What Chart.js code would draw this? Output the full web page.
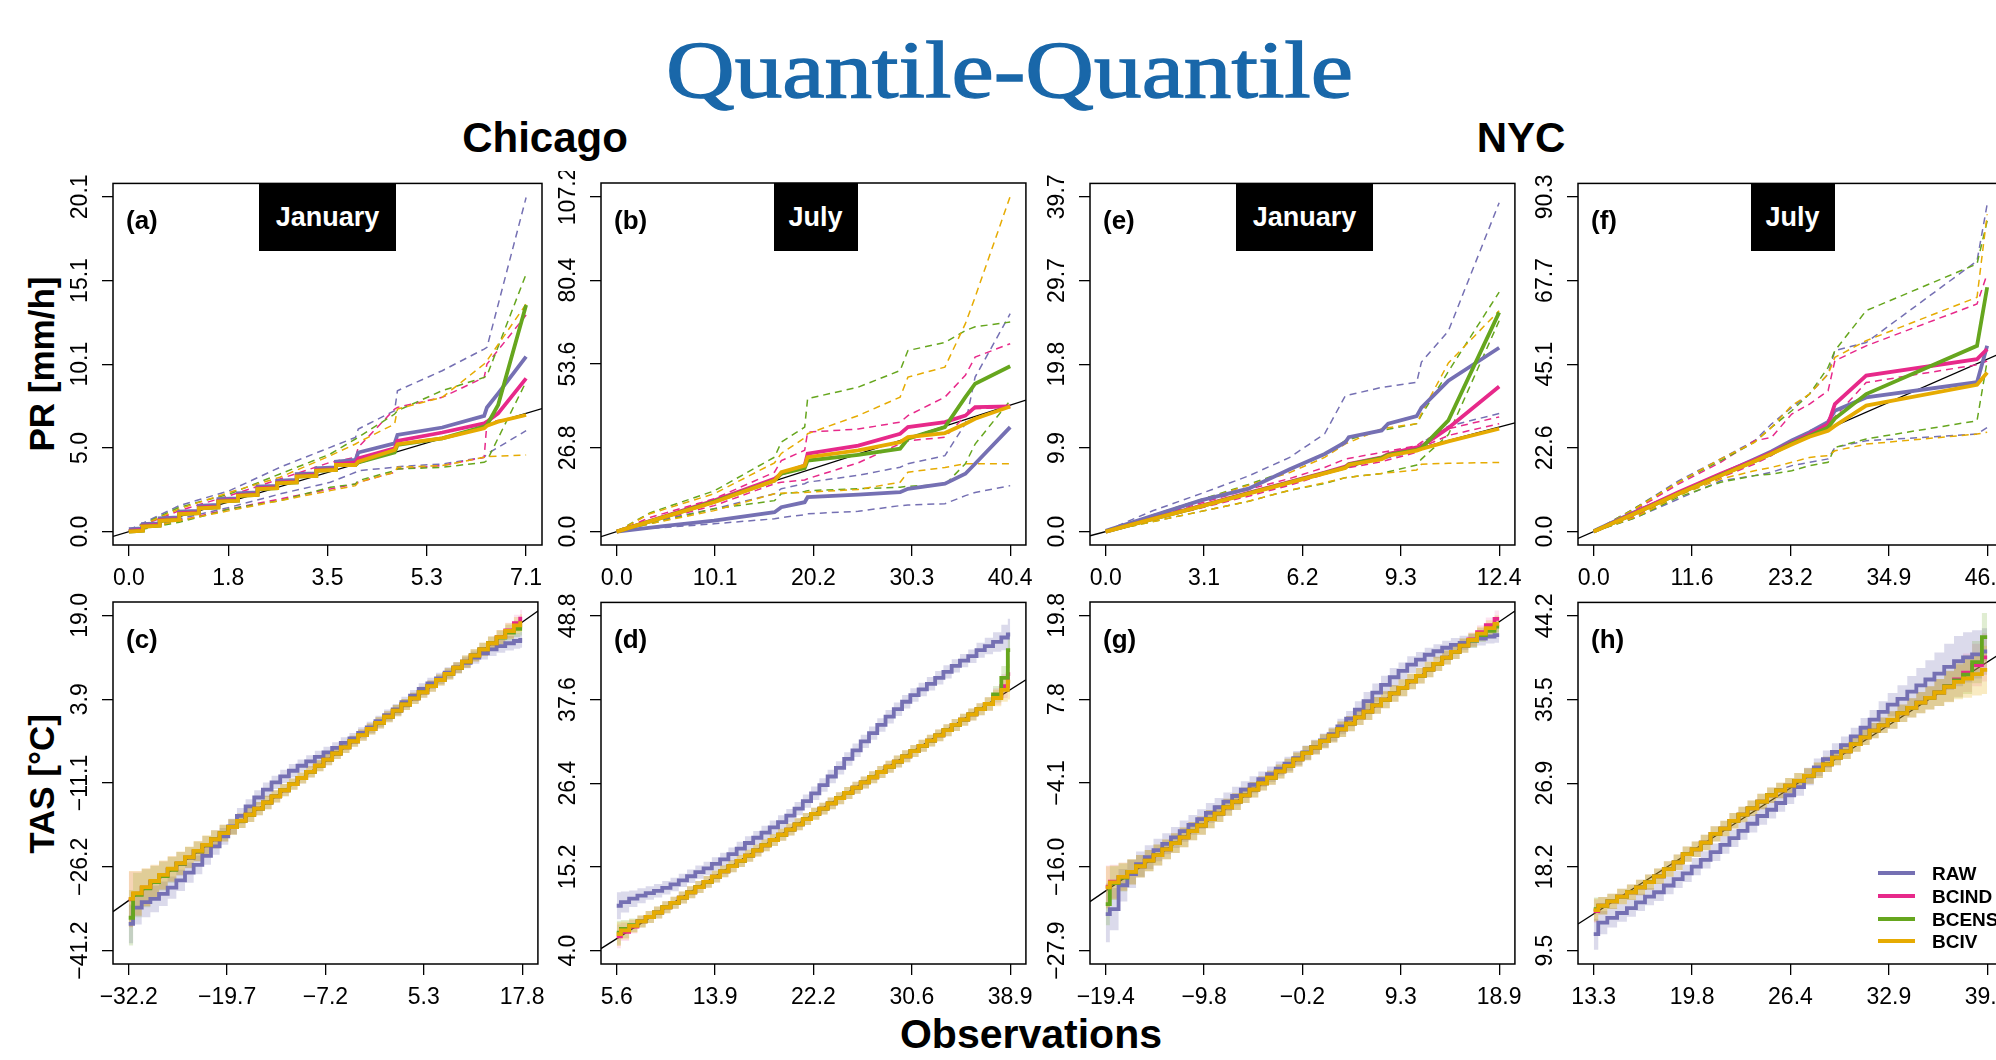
<!DOCTYPE html>
<html>
<head>
<meta charset="utf-8">
<title>Quantile-Quantile</title>
<script src="https://cdn.jsdelivr.net/npm/chart.js@4.4.1/dist/chart.umd.min.js"></script>
<style>
  html, body { margin: 0; padding: 0; }
  body { width: 1996px; height: 1060px; position: relative; overflow: hidden; background: #fff;
         font-family: "Liberation Sans", Arial, sans-serif; color: #000; }
  .txt { position: absolute; white-space: nowrap; line-height: 1; }
  #title { left: 666px; top: 30px; font-family: "Liberation Serif", serif; font-size: 81px; color: #1967a9;
           -webkit-text-stroke: 1.3px #1967a9; transform-origin: 0 0; }
  .city { font-size: 42px; font-weight: bold; top: 117px; transform: translateX(-50%); }
  .ylab { font-size: 35px; font-weight: bold; transform: translate(-50%, -50%) rotate(-90deg); }
  .tag { font-size: 26px; font-weight: bold; transform: translateY(-50%); }
  .month { position: absolute; height: 68px; background: #000; color: #fff; font-weight: bold; font-size: 27px;
           display: flex; align-items: center; justify-content: center; }
  .key { position: absolute; height: 4px; width: 37px; }
  .keytxt { font-size: 19px; font-weight: bold; transform: translateY(-50%); }
</style>
</head>
<body>
<div id="title" class="txt">Quantile-Quantile</div>
<div class="txt city" style="left:545px">Chicago</div>
<div class="txt city" style="left:1521px">NYC</div>
<div class="txt ylab" style="left:41px;top:364px">PR [mm/h]</div>
<div class="txt ylab" style="left:41px;top:784px">TAS [°C]</div>
<div class="txt" style="left:1031px;top:1014px;font-size:41px;font-weight:bold;transform:translateX(-50%)">Observations</div>
<script>
// ---------- (a) PR, Chicago, January ----------
const aXTicks = [0.0, 1.8, 3.5, 5.3, 7.1];
const aYTicks = [0.0, 5.0, 10.1, 15.1, 20.1];
const aObs   = [0.0, 0.25, 0.25, 0.55, 0.55, 0.9, 0.9, 1.25, 1.25, 1.6, 1.6, 1.95, 1.95, 2.3, 2.3, 2.65, 2.65, 3.0, 3.0, 3.35, 3.35, 3.7, 3.7,
                4.05, 4.1, 4.75, 4.8, 5.6, 6.35, 6.4, 6.6, 7.1];
const aRaw   = [0.15, 0.2, 0.45, 0.5, 0.8, 0.85, 1.2, 1.25, 1.55, 1.6, 1.95, 2.0, 2.3, 2.35, 2.7, 2.75, 3.05, 3.1, 3.45, 3.5, 3.8, 3.85, 4.2,
                4.3, 4.75, 5.3, 5.8, 6.25, 6.95, 7.45, 8.3, 10.5];
const aBcind = [0.05, 0.1, 0.35, 0.4, 0.7, 0.75, 1.1, 1.15, 1.45, 1.5, 1.85, 1.9, 2.2, 2.25, 2.6, 2.65, 2.95, 3.0, 3.35, 3.4, 3.7, 3.75, 4.05,
                4.15, 4.4, 5.0, 5.45, 5.95, 6.5, 6.6, 7.1, 9.2];
const aBcens = [0.0, 0.05, 0.3, 0.35, 0.65, 0.7, 1.05, 1.1, 1.4, 1.45, 1.8, 1.85, 2.15, 2.2, 2.55, 2.6, 2.9, 2.95, 3.3, 3.35, 3.65, 3.7, 4.0,
                4.0, 4.15, 4.75, 5.2, 5.6, 6.3, 6.4, 7.6, 13.6];
const aBciv  = [0.0, 0.05, 0.3, 0.35, 0.65, 0.7, 1.05, 1.1, 1.4, 1.45, 1.8, 1.85, 2.15, 2.2, 2.55, 2.6, 2.9, 2.95, 3.3, 3.35, 3.65, 3.7, 4.0,
                4.0, 4.2, 4.9, 5.25, 5.6, 6.2, 6.35, 6.6, 7.0];
const aObsBand = [0.0, 0.9, 1.8, 2.7, 3.6, 4.05, 4.1, 4.75, 4.8, 5.6, 6.35, 6.4, 7.1];
const aRawHi   = [0.1, 1.56, 2.46, 3.86, 5.06, 5.66, 6.16, 7.26, 8.46, 9.66, 10.96, 11.06, 20.06];
const aRawLo   = [0.05, 0.76, 1.46, 2.26, 2.96, 3.56, 3.66, 3.86, 3.9, 4.06, 4.46, 4.66, 6.06];
const aBcindHi = [0.05, 1.26, 2.16, 3.16, 4.16, 4.46, 5.06, 7.36, 7.46, 8.06, 9.26, 10.06, 13.0];
const aBcindLo = [0.0, 0.66, 1.36, 1.96, 2.56, 2.86, 2.96, 3.56, 3.76, 3.96, 4.46, 6.56, 6.96];
const aBcensHi = [0.05, 1.46, 2.26, 3.46, 4.66, 5.56, 5.66, 7.06, 7.26, 8.46, 9.26, 9.36, 15.46];
const aBcensLo = [0.0, 0.56, 1.36, 1.86, 2.66, 2.86, 3.06, 3.66, 3.76, 3.86, 4.16, 4.26, 9.0];
const aBcivHi  = [0.05, 1.36, 2.36, 3.26, 4.56, 5.26, 5.36, 6.46, 7.36, 8.06, 10.06, 10.26, 13.66];
const aBcivLo  = [0.0, 0.66, 1.26, 1.86, 2.46, 2.76, 2.96, 3.56, 3.86, 3.96, 4.46, 4.5, 4.6];

// ---------- (b) PR, Chicago, July ----------
const bXTicks = [0.0, 10.1, 20.2, 30.3, 40.4];
const bYTicks = [0.0, 26.8, 53.6, 80.4, 107.2];
const bObs   = [0, 5, 10, 16.2, 16.9, 19.3, 19.6, 24.8, 29.1, 29.9, 33.7, 35.8, 36.8, 40.4];
const bRaw   = [0, 1.8, 3.5, 6.2, 7.8, 9.4, 11.0, 11.8, 12.6, 13.7, 15.3, 18.5, 21.7, 33.4];
const bBcind = [0, 5.0, 9.9, 16.9, 18.5, 21.1, 24.9, 27.5, 31.3, 33.4, 35.0, 37.1, 39.8, 40.0];
const bBcens = [0, 4.8, 9.6, 16.3, 18.5, 20.3, 22.7, 24.5, 26.5, 29.7, 33.4, 43.0, 47.3, 52.9];
const bBciv  = [0, 4.8, 9.4, 16.3, 19.0, 21.1, 23.8, 26.0, 28.6, 30.2, 31.5, 34.5, 36.1, 40.0];
const bObsBand = [0, 3.4, 10.0, 16.2, 16.9, 19.3, 19.6, 24.8, 29.1, 29.9, 33.7, 35.8, 36.8, 40.4];
const bRawHi   = [0, 3.0, 7.3, 12.1, 13.7, 15.3, 15.8, 18.0, 20.6, 21.7, 24.3, 34.5, 49.4, 69.7];
const bRawLo   = [0, 1.0, 2.5, 4.1, 4.5, 5.4, 5.7, 6.5, 8.3, 8.5, 8.9, 11.5, 12.5, 14.7];
const bBcindHi = [0, 4.5, 10.5, 19.0, 22.7, 26.0, 31.8, 32.8, 35.0, 37.1, 43.0, 50.0, 55.8, 60.1];
const bBcindLo = [0, 3.0, 8.3, 15.3, 15.8, 16.5, 16.9, 22.0, 28.1, 29.0, 30.2, 37.0, 39.3, 39.8];
const bBcensHi = [0, 6.0, 13.0, 23.8, 28.6, 33.4, 42.5, 46.2, 51.5, 57.9, 60.5, 64.3, 65.5, 67.0];
const bBcensLo = [0, 2.5, 7.3, 9.9, 12.1, 12.8, 13.1, 13.7, 14.2, 14.5, 15.0, 21.7, 28.0, 41.9];
const bBcivHi  = [0, 5.7, 12.1, 22.0, 25.0, 30.0, 31.3, 37.1, 43.0, 49.4, 52.6, 66.5, 75.0, 107.2];
const bBcivLo  = [0, 2.5, 6.7, 12.1, 12.3, 12.5, 12.6, 13.5, 15.8, 19.0, 20.5, 21.7, 21.7, 21.7];

// ---------- (e) PR, NYC, January ----------
const eXTicks = [0.0, 3.1, 6.2, 9.3, 12.4];
const eYTicks = [0.0, 9.9, 19.8, 29.7, 39.7];
const eObs   = [0, 1.5, 3.0, 4.5, 5.8, 6.9, 7.55, 7.66, 8.7, 8.9, 9.8, 9.95, 10.8, 12.4];
const eRaw   = [0.1, 1.9, 3.7, 5.1, 7.4, 9.2, 10.6, 11.2, 12.0, 12.8, 13.7, 14.7, 17.9, 21.8];
const eBcind = [0, 1.55, 3.05, 4.6, 5.9, 7.0, 7.7, 8.0, 8.8, 9.2, 10.0, 10.1, 12.3, 17.2];
const eBcens = [0, 1.5, 3.0, 4.55, 5.85, 6.95, 7.6, 7.95, 8.75, 9.1, 9.7, 9.9, 13.2, 26.0];
const eBciv  = [0, 1.5, 3.0, 4.5, 5.8, 6.9, 7.55, 7.9, 8.6, 9.0, 9.6, 9.8, 10.7, 12.2];
const eObsBand = [0, 1.5, 3.0, 4.5, 5.8, 6.9, 7.55, 8.7, 9.8, 9.95, 10.8, 12.4];
const eRawHi   = [0.1, 2.5, 4.5, 6.6, 8.8, 11.6, 16.1, 17.1, 17.7, 20.1, 23.8, 39.0];
const eRawLo   = [0, 1.5, 2.9, 4.4, 5.6, 6.9, 7.6, 8.6, 9.5, 10.5, 12.5, 14.0];
const eBcindHi = [0, 1.7, 3.4, 5.0, 6.3, 7.6, 8.6, 9.4, 10.2, 10.6, 12.2, 13.6];
const eBcindLo = [0, 1.4, 2.8, 4.2, 5.5, 6.8, 7.5, 8.3, 9.4, 10.0, 11.4, 12.8];
const eBcensHi = [0, 2.0, 3.8, 5.6, 7.3, 9.1, 10.8, 12.0, 12.8, 13.8, 19.0, 28.4];
const eBcensLo = [0, 1.2, 2.4, 3.6, 4.9, 5.7, 6.4, 6.9, 7.9, 8.6, 11.5, 25.0];
const eBcivHi  = [0, 1.9, 3.7, 5.5, 7.0, 8.8, 10.4, 12.2, 12.8, 14.0, 20.0, 26.2];
const eBcivLo  = [0, 1.2, 2.4, 3.6, 4.9, 5.8, 6.4, 6.9, 7.3, 8.0, 8.1, 8.2];

// ---------- (f) PR, NYC, July ----------
const fXTicks = [0.0, 11.6, 23.2, 34.9, 46.5];
const fYTicks = [0.0, 22.6, 45.1, 67.7, 90.3];
const fObs   = [0, 5, 10, 15, 19, 21, 23.4, 25.5, 27.7, 28.5, 32.2, 45.3, 46.5];
const fRaw   = [0.2, 5.4, 10.3, 15.4, 19.5, 21.6, 24.6, 26.8, 29.6, 32.6, 36.2, 40.3, 50.1];
const fBcind = [0, 5.3, 10.6, 15.6, 19.3, 21.3, 24.0, 26.2, 29.0, 34.4, 42.1, 46.5, 49.2];
const fBcens = [0, 5.0, 10.2, 15.2, 19.0, 21.0, 23.8, 25.8, 28.1, 30.5, 37.1, 50.1, 65.9];
const fBciv  = [0, 5.0, 10.2, 15.1, 19.0, 21.0, 23.5, 25.6, 27.2, 28.5, 34.0, 39.6, 42.9];
const fRawHi   = [0, 6.5, 13.7, 19.6, 24.5, 29.0, 33.5, 37.1, 42.5, 48.8, 51.0, 73.0, 88.3];
const fRawLo   = [0, 3.8, 8.8, 13.7, 15.1, 16.0, 17.8, 18.7, 19.6, 22.7, 24.5, 26.3, 28.1];
const fBcindHi = [0, 6.0, 12.8, 18.7, 24.5, 25.4, 31.7, 34.4, 38.0, 46.1, 50.1, 61.4, 69.5];
const fBcindLo = [0, 4.2, 10.2, 14.6, 18.2, 20.5, 24.1, 27.2, 29.0, 31.0, 40.2, 45.0, 46.0];
const fBcensHi = [0, 6.5, 13.3, 19.1, 24.1, 28.1, 32.6, 37.1, 44.3, 48.8, 59.6, 72.2, 83.8];
const fBcensLo = [0, 3.8, 9.3, 13.3, 15.1, 15.5, 16.4, 17.8, 18.7, 22.7, 25.0, 29.9, 46.0];
const fBcivHi  = [0, 6.3, 13.3, 19.6, 24.1, 28.1, 34.0, 37.1, 42.5, 47.0, 51.5, 63.2, 85.6];
const fBcivLo  = [0, 4.0, 9.7, 14.2, 16.4, 17.3, 18.7, 20.0, 20.5, 21.8, 23.6, 26.3, 26.8];

// ---------- (c) TAS, Chicago, January ----------
const cXTicks = [-32.2, -19.7, -7.2, 5.3, 17.8];
const cYTicks = [-41.2, -26.2, -11.1, 3.9, 19.0];
const cObs   = [-32.2, -31.1, -30.0, -28.9, -27.8, -26.7, -25.6, -24.5, -23.4, -22.3, -21.2, -20.1, -19.0, -17.9, -16.8, -15.7,
                -14.6, -13.5, -12.4, -11.3, -10.2, -9.1, -8.0, -6.9, -5.8, -4.7, -3.6, -2.5, -1.4, -0.3, 0.8, 1.9,
                3.0, 4.1, 5.2, 6.3, 7.4, 8.5, 9.6, 10.7, 11.8, 12.9, 14.0, 15.1, 16.2, 17.3, 17.8];
const cRaw   = [-36.4, -33.5, -32.5, -31.9, -31.0, -29.9, -28.6, -27.2, -25.8, -24.2, -22.5, -20.7, -18.9, -17.0, -15.3, -13.7,
                -12.3, -11.0, -9.9, -8.9, -8.0, -7.2, -6.4, -5.6, -4.8, -3.9, -3.1, -2.1, -1.1, 0.0, 1.1, 2.1,
                3.4, 4.6, 5.8, 6.8, 7.7, 8.7, 9.6, 10.5, 11.4, 12.2, 12.9, 13.5, 14.0, 14.4, 14.6];
const cBcind = [-32.0, -31.0, -29.9, -28.8, -27.7, -26.6, -25.6, -24.5, -23.4, -22.3, -21.2, -20.1, -19.0, -17.9, -16.8, -15.7,
                -14.6, -13.5, -12.4, -11.3, -10.2, -9.1, -8.0, -6.9, -5.8, -4.7, -3.6, -2.5, -1.4, -0.3, 0.8, 1.9,
                3.0, 4.1, 5.2, 6.3, 7.4, 8.5, 9.6, 10.7, 11.8, 12.9, 14.0, 15.1, 16.3, 17.6, 18.4];
const cBcens = [-35.3, -31.2, -30.0, -28.9, -27.8, -26.7, -25.6, -24.5, -23.4, -22.3, -21.2, -20.1, -19.0, -17.9, -16.8, -15.7,
                -14.6, -13.5, -12.4, -11.3, -10.2, -9.1, -8.0, -6.9, -5.8, -4.7, -3.6, -2.5, -1.4, -0.3, 0.8, 1.9,
                3.0, 4.1, 5.2, 6.3, 7.4, 8.5, 9.6, 10.7, 11.8, 12.9, 14.0, 15.0, 15.9, 16.6, 17.0];
const cBciv  = [-31.9, -30.9, -29.8, -28.7, -27.6, -26.5, -25.5, -24.4, -23.3, -22.2, -21.2, -20.1, -19.0, -17.9, -16.8, -15.7,
                -14.6, -13.5, -12.4, -11.3, -10.2, -9.1, -8.0, -6.9, -5.8, -4.7, -3.6, -2.5, -1.4, -0.3, 0.8, 1.9,
                3.0, 4.1, 5.2, 6.3, 7.4, 8.5, 9.6, 10.7, 11.8, 12.9, 14.0, 15.1, 16.2, 17.2, 17.6];
const cRawSpread = [3.5, 3.0, 2.7, 2.4, 2.2, 2.0, 1.9, 1.8, 1.7, 1.6, 1.5, 1.5, 1.4, 1.4, 1.3, 1.3,
                    1.3, 1.2, 1.2, 1.2, 1.1, 1.1, 1.1, 1.0, 1.0, 1.0, 1.0, 1.0, 1.0, 1.0, 1.0, 1.0,
                    1.0, 1.0, 1.0, 1.0, 1.0, 1.0, 1.0, 1.0, 1.1, 1.1, 1.2, 1.2, 1.3, 1.4, 1.4];
const cBcSpread  = [5.0, 4.0, 3.4, 2.9, 2.6, 2.3, 2.1, 1.9, 1.8, 1.7, 1.6, 1.5, 1.4, 1.3, 1.3, 1.2,
                    1.2, 1.1, 1.1, 1.0, 1.0, 1.0, 1.0, 1.0, 1.0, 1.0, 1.0, 1.0, 1.0, 1.0, 1.0, 1.0,
                    1.0, 1.0, 1.0, 1.0, 1.0, 1.0, 1.0, 1.1, 1.1, 1.2, 1.2, 1.3, 1.4, 1.5, 1.6];

// ---------- (d) TAS, Chicago, July ----------
const dXTicks = [5.6, 13.9, 22.2, 30.6, 38.9];
const dYTicks = [4.0, 15.2, 26.4, 37.6, 48.8];
const dObs   = [5.6, 6.3, 7.0, 7.7, 8.4, 9.1, 9.8, 10.5, 11.2, 11.9, 12.6, 13.3, 14.0, 14.7, 15.4, 16.1,
                16.8, 17.5, 18.2, 18.9, 19.6, 20.3, 21.0, 21.7, 22.4, 23.1, 23.8, 24.5, 25.2, 25.9, 26.6, 27.3,
                28.0, 28.7, 29.4, 30.1, 30.8, 31.5, 32.2, 32.9, 33.6, 34.3, 35.0, 35.7, 36.4, 37.1, 37.8, 38.5, 38.9];
const dRaw   = [10.0, 10.5, 10.95, 11.35, 11.7, 12.0, 12.4, 12.85, 13.4, 13.95, 14.5, 15.0, 15.6, 16.2, 16.9, 17.65,
                18.4, 19.1, 19.8, 20.5, 21.2, 22.05, 23.0, 24.0, 25.05, 26.15, 27.3, 28.45, 29.65, 30.8, 32.0, 33.1,
                34.2, 35.3, 36.3, 37.3, 38.2, 38.95, 39.7, 40.5, 41.3, 42.1, 42.8, 43.4, 44.2, 44.75, 45.3, 45.9, 46.3];
const dBcind = [5.9, 6.5, 7.2, 7.9, 8.5, 9.1, 9.8, 10.4, 11.1, 11.8, 12.5, 13.2, 13.9, 14.6, 15.3, 16.0,
                16.7, 17.4, 18.1, 18.8, 19.5, 20.2, 20.9, 21.6, 22.3, 23.0, 23.7, 24.4, 25.1, 25.8, 26.5, 27.2,
                27.9, 28.6, 29.3, 30.0, 30.7, 31.4, 32.1, 32.8, 33.5, 34.2, 34.9, 35.6, 36.3, 37.0, 38.0, 39.4, 41.0];
const dBcens = [6.4, 6.9, 7.4, 7.9, 8.5, 9.1, 9.8, 10.4, 11.1, 11.8, 12.5, 13.2, 13.9, 14.6, 15.3, 16.0,
                16.7, 17.4, 18.1, 18.8, 19.5, 20.2, 20.9, 21.6, 22.3, 23.0, 23.7, 24.4, 25.1, 25.8, 26.5, 27.2,
                27.9, 28.6, 29.3, 30.0, 30.7, 31.4, 32.1, 32.8, 33.5, 34.2, 34.9, 35.6, 36.3, 37.0, 38.3, 40.5, 44.2];
const dBciv  = [6.2, 6.7, 7.3, 7.9, 8.5, 9.1, 9.8, 10.4, 11.1, 11.8, 12.5, 13.2, 13.9, 14.6, 15.3, 16.0,
                16.7, 17.4, 18.1, 18.8, 19.5, 20.2, 20.9, 21.6, 22.3, 23.0, 23.7, 24.4, 25.1, 25.8, 26.5, 27.2,
                27.9, 28.6, 29.3, 30.0, 30.7, 31.4, 32.1, 32.8, 33.5, 34.2, 34.9, 35.6, 36.3, 37.0, 37.8, 38.9, 40.0];
const dRawSpread = [1.8, 1.4, 1.1, 1.0, 0.9, 0.9, 0.9, 0.9, 0.9, 0.9, 0.9, 0.9, 0.9, 0.9, 0.9, 0.9,
                    0.9, 0.9, 0.9, 0.9, 0.9, 0.9, 0.9, 0.9, 0.9, 0.9, 0.9, 0.9, 0.9, 0.9, 0.9, 0.9,
                    0.9, 0.9, 0.9, 0.9, 0.9, 0.9, 0.9, 0.9, 0.9, 0.9, 0.9, 0.9, 1.0, 1.1, 1.3, 1.7, 2.1];
const dBcSpread  = [1.6, 1.2, 0.9, 0.8, 0.8, 0.8, 0.8, 0.8, 0.8, 0.8, 0.8, 0.8, 0.8, 0.8, 0.8, 0.8,
                    0.8, 0.8, 0.8, 0.8, 0.8, 0.8, 0.8, 0.8, 0.8, 0.8, 0.8, 0.8, 0.8, 0.8, 0.8, 0.8,
                    0.8, 0.8, 0.8, 0.8, 0.8, 0.8, 0.8, 0.8, 0.8, 0.8, 0.8, 0.8, 0.8, 0.9, 1.1, 1.6, 2.4];

// ---------- (g) TAS, NYC, January ----------
const gXTicks = [-19.4, -9.8, -0.2, 9.3, 18.9];
const gYTicks = [-27.9, -16.0, -4.1, 7.8, 19.8];
const gObs   = [-19.4, -18.6, -17.7, -16.9, -16.0, -15.2, -14.3, -13.5, -12.6, -11.8, -10.9, -10.1, -9.2, -8.4, -7.5, -6.7,
                -5.8, -5.0, -4.1, -3.3, -2.4, -1.6, -0.7, 0.2, 1.0, 1.9, 2.7, 3.6, 4.4, 5.3, 6.1, 7.0,
                7.8, 8.7, 9.5, 10.4, 11.2, 12.1, 12.9, 13.8, 14.6, 15.5, 16.3, 17.2, 18.0, 18.9];
const gRaw   = [-22.7, -22.0, -18.6, -17.0, -15.6, -14.6, -13.6, -12.7, -11.8, -10.9, -10.0, -9.2, -8.3, -7.5, -6.7, -5.9,
                -5.0, -4.3, -3.5, -2.8, -2.0, -1.3, -0.5, 0.3, 1.1, 2.0, 2.9, 4.0, 5.1, 6.4, 7.6, 8.8,
                9.9, 11.0, 11.9, 12.8, 13.5, 14.2, 14.7, 15.2, 15.6, 15.9, 16.2, 16.5, 16.8, 17.0];
const gBcind = [-18.8, -18.1, -17.4, -16.7, -15.9, -15.1, -14.3, -13.5, -12.6, -11.8, -10.9, -10.1, -9.2, -8.4, -7.5, -6.7,
                -5.8, -5.0, -4.1, -3.3, -2.4, -1.6, -0.7, 0.2, 1.0, 1.9, 2.7, 3.6, 4.4, 5.3, 6.1, 7.0,
                7.8, 8.7, 9.5, 10.4, 11.2, 12.1, 12.9, 13.8, 14.6, 15.5, 16.4, 17.4, 18.4, 19.3];
const gBcens = [-21.3, -18.3, -17.5, -16.7, -15.9, -15.1, -14.3, -13.5, -12.6, -11.8, -10.9, -10.1, -9.2, -8.4, -7.5, -6.7,
                -5.8, -5.0, -4.1, -3.3, -2.4, -1.6, -0.7, 0.2, 1.0, 1.9, 2.7, 3.6, 4.4, 5.3, 6.1, 7.0,
                7.8, 8.7, 9.5, 10.4, 11.2, 12.1, 12.9, 13.8, 14.6, 15.5, 16.2, 17.0, 17.6, 18.2];
const gBciv  = [-18.9, -18.2, -17.4, -16.7, -15.9, -15.1, -14.3, -13.5, -12.6, -11.8, -10.9, -10.1, -9.2, -8.4, -7.5, -6.7,
                -5.8, -5.0, -4.1, -3.3, -2.4, -1.6, -0.7, 0.2, 1.0, 1.9, 2.7, 3.6, 4.4, 5.3, 6.1, 7.0,
                7.8, 8.7, 9.5, 10.4, 11.2, 12.1, 12.9, 13.8, 14.6, 15.5, 16.3, 17.2, 18.0, 18.6];
const gRawSpread = [4.0, 3.0, 2.3, 2.0, 1.8, 1.7, 1.6, 1.5, 1.5, 1.5, 1.4, 1.4, 1.4, 1.3, 1.3, 1.3,
                    1.2, 1.2, 1.1, 1.1, 1.0, 1.0, 1.0, 1.0, 1.0, 1.0, 1.0, 1.1, 1.1, 1.2, 1.3, 1.3,
                    1.3, 1.3, 1.2, 1.2, 1.1, 1.0, 1.0, 1.0, 1.0, 1.0, 1.0, 1.0, 1.0, 1.1];
const gBcSpread  = [3.0, 2.4, 2.0, 1.8, 1.6, 1.5, 1.5, 1.4, 1.4, 1.4, 1.3, 1.3, 1.3, 1.2, 1.2, 1.2,
                    1.1, 1.1, 1.0, 1.0, 1.0, 1.0, 1.0, 1.0, 1.0, 1.0, 1.0, 1.1, 1.1, 1.1, 1.2, 1.2,
                    1.2, 1.2, 1.2, 1.1, 1.1, 1.1, 1.0, 1.0, 1.0, 1.0, 1.0, 1.0, 1.1, 1.2];

// ---------- (h) TAS, NYC, July ----------
const hXTicks = [13.3, 19.8, 26.4, 32.9, 39.4];
const hYTicks = [9.5, 18.2, 26.9, 35.5, 44.2];
const hObs   = [13.3, 13.9, 14.5, 15.2, 15.8, 16.4, 17.0, 17.6, 18.3, 18.9, 19.5, 20.1, 20.7, 21.4, 22.0, 22.6,
                23.2, 23.8, 24.5, 25.1, 25.7, 26.3, 26.9, 27.6, 28.2, 28.8, 29.4, 30.0, 30.7, 31.3, 31.9, 32.5,
                33.1, 33.8, 34.4, 35.0, 35.6, 36.2, 36.9, 37.5, 38.1, 38.7, 39.4];
const hRaw   = [11.2, 12.4, 12.9, 13.4, 13.9, 14.5, 15.1, 15.55, 16.25, 16.9, 17.5, 18.2, 18.9, 19.7, 20.45, 21.15,
                21.9, 22.65, 23.45, 24.1, 24.8, 25.6, 26.45, 27.55, 28.5, 29.35, 30.1, 30.8, 31.7, 32.6, 33.45, 34.25,
                35.0, 35.6, 36.35, 37.0, 37.6, 38.2, 38.9, 39.5, 39.9, 40.2, 40.5];
const hBcind = [13.6, 14.15, 14.6, 15.1, 15.55, 16.05, 16.6, 17.2, 17.95, 18.65, 19.5, 20.0, 20.7, 21.6, 22.15, 22.95,
                23.6, 24.25, 24.95, 25.6, 26.1, 26.6, 27.1, 27.6, 28.2, 28.8, 29.5, 30.15, 30.9, 31.6, 32.3, 32.85,
                33.4, 34.1, 34.65, 35.2, 35.7, 36.25, 36.9, 37.6, 38.3, 39.1, 39.9];
const hBcens = [13.8, 14.15, 14.6, 15.1, 15.55, 16.05, 16.6, 17.2, 17.95, 18.65, 19.5, 20.0, 20.7, 21.6, 22.15, 22.95,
                23.6, 24.25, 24.95, 25.6, 26.1, 26.6, 27.1, 27.6, 28.2, 28.8, 29.5, 30.15, 30.9, 31.6, 32.3, 32.85,
                33.4, 34.1, 34.65, 35.2, 35.7, 36.25, 36.9, 37.5, 38.1, 39.4, 42.0];
const hBciv  = [13.7, 14.15, 14.6, 15.1, 15.55, 16.05, 16.6, 17.2, 17.95, 18.65, 19.5, 20.0, 20.7, 21.6, 22.15, 22.95,
                23.6, 24.25, 24.95, 25.6, 26.1, 26.6, 27.1, 27.6, 28.2, 28.8, 29.5, 30.15, 30.9, 31.6, 32.3, 32.85,
                33.4, 34.1, 34.65, 35.2, 35.7, 36.25, 36.85, 37.35, 37.7, 38.15, 38.6];
const hRawSpread = [1.6, 1.2, 1.0, 0.9, 0.9, 0.9, 0.9, 0.9, 0.9, 0.9, 0.9, 0.9, 0.9, 0.9, 0.9, 0.9,
                    0.9, 0.9, 0.9, 0.9, 0.9, 0.9, 0.9, 0.9, 0.9, 0.9, 0.9, 0.9, 0.9, 1.0, 1.0, 1.1,
                    1.2, 1.4, 1.6, 1.8, 2.0, 2.2, 2.4, 2.6, 2.6, 2.5, 2.4];
const hBcSpread  = [1.2, 0.9, 0.8, 0.8, 0.8, 0.8, 0.8, 0.8, 0.8, 0.8, 0.8, 0.8, 0.8, 0.8, 0.8, 0.8,
                    0.8, 0.8, 0.8, 0.8, 0.8, 0.8, 0.8, 0.8, 0.8, 0.8, 0.8, 0.8, 0.8, 0.8, 0.8, 0.8,
                    0.9, 0.9, 1.0, 1.1, 1.2, 1.4, 1.6, 1.8, 2.0, 2.2, 2.5];

const SERIES = ['RAW', 'BCIND', 'BCENS', 'BCIV'];
const COLORS = ['#7570B3', '#E7298A', '#66A61E', '#E6AB02'];
const BANDS = ['rgba(117,112,179,0.26)', 'rgba(231,41,138,0.13)', 'rgba(102,166,30,0.2)', 'rgba(230,171,2,0.24)'];

// layout (px)
const BOX_W = 429, BOX_H = 362, AXIS_W = 80, AXIS_H = 62, PAD = 12;
const COL_LEFT = [113, 601, 1090, 1578];
const ROW_TOP = [183, 602];

Chart.defaults.font.family = '"Liberation Sans", Arial, sans-serif';
Chart.defaults.color = '#000';

const pts = (xs, ys) => xs.map((x, i) => ({ x, y: ys[i] }));
const fmt = v => v.toFixed(1).replace('-', '\u2212');

const measure = document.createElement('canvas').getContext('2d');
measure.font = '23px "Liberation Sans"';

// box round the plot region, like R's box()
const frame = {
    id: 'frame',
    afterDatasetsDraw(chart) {
        const { ctx, chartArea: a } = chart;
        ctx.save();
        ctx.strokeStyle = '#000';
        ctx.lineWidth = 1.5;
        ctx.strokeRect(a.left, a.top, a.right - a.left, a.bottom - a.top);
        ctx.restore();
    },
};

function precipSets(obs, series, obsBand, bounds) {
    const sets = [];
    SERIES.forEach((s, i) => {
        bounds[i].forEach(b => sets.push({
            data: pts(obsBand, b), borderColor: COLORS[i], borderWidth: 1.5, borderDash: [7, 5], order: 30 - i,
        }));
    });
    SERIES.forEach((s, i) => sets.push({
        data: pts(obs, series[i]), borderColor: COLORS[i], borderWidth: 3.8, order: 13 - i,
    }));
    return sets;
}

function tempSets(obs, series, rawSpread, bcSpread) {
    const sets = [];
    SERIES.forEach((s, i) => {
        const sp = i === 0 ? rawSpread : bcSpread;
        sets.push({ data: obs.map((x, j) => ({ x, y: series[i][j] - sp[j] })), borderWidth: 0, stepped: 'middle', order: 43 - i });
        sets.push({ data: obs.map((x, j) => ({ x, y: series[i][j] + sp[j] })), borderWidth: 0, stepped: 'middle',
                    fill: '-1', backgroundColor: BANDS[i], order: 43 - i });
    });
    SERIES.forEach((s, i) => sets.push({
        data: pts(obs, series[i]), borderColor: COLORS[i], borderWidth: 3.8, stepped: 'middle', order: 13 - i,
    }));
    return sets;
}

function addText(cls, text, left, top) {
    const d = document.createElement('div');
    d.className = cls;
    d.textContent = text;
    d.style.left = left + 'px';
    d.style.top = top + 'px';
    document.body.appendChild(d);
    return d;
}

function makePanel(p) {
    const left = COL_LEFT[p.col], top = ROW_TOP[p.row];
    const canvas = document.createElement('canvas');
    const w = AXIS_W + BOX_W + PAD, h = PAD + BOX_H + AXIS_H;
    canvas.width = w; canvas.height = h;
    canvas.style.cssText = `position:absolute;left:${left - AXIS_W}px;top:${top - PAD}px;width:${w}px;height:${h}px`;
    document.body.appendChild(canvas);

    const xs = p.xTicks, ys = p.yTicks;
    const xr = xs[xs.length - 1] - xs[0], yr = ys[ys.length - 1] - ys[0];
    const xlo = xs[0] - 0.04 * xr, xhi = xs[xs.length - 1] + 0.04 * xr;
    const ylo = ys[0] - 0.04 * yr, yhi = ys[ys.length - 1] + 0.04 * yr;
    const xPos = xs.map((v, i) => xs[0] + xr * i / (xs.length - 1));
    const yPos = ys.map((v, i) => ys[0] + yr * i / (ys.length - 1));

    const datasets = p.sets.slice();
    // 1:1 reference line across the whole plot region
    datasets.push({ data: [{ x: xlo, y: xlo }, { x: xhi, y: xhi }], borderColor: '#000', borderWidth: 1.3, order: 100 });

    const yWidest = Math.max(...ys.map(v => measure.measureText(fmt(v)).width));
    const font = { size: 23 };
    const grid = { drawOnChartArea: false, drawTicks: true, tickLength: 11, color: '#000', lineWidth: 1.3 };

    new Chart(canvas, {
        type: 'line',
        data: { datasets },
        options: {
            responsive: false,
            animation: false,
            devicePixelRatio: 1,
            layout: { padding: { top: PAD, right: PAD, left: 0, bottom: 0 } },
            elements: { point: { radius: 0 }, line: { tension: 0, fill: false } },
            plugins: { legend: { display: false }, tooltip: { enabled: false } },
            scales: {
                x: {
                    type: 'linear', min: xlo, max: xhi,
                    afterFit: s => { s.height = AXIS_H; },
                    afterBuildTicks: s => { s.ticks = xPos.map(v => ({ value: v })); },
                    ticks: { font, padding: 9, maxRotation: 0, autoSkip: false, callback: (v, i) => fmt(xs[i]) },
                    grid, border: { display: false },
                },
                y: {
                    type: 'linear', min: ylo, max: yhi,
                    afterFit: s => { s.width = AXIS_W; },
                    afterBuildTicks: s => { s.ticks = yPos.map(v => ({ value: v })); },
                    ticks: { font, minRotation: 90, maxRotation: 90, crossAlign: 'center', autoSkip: false,
                             padding: 32 - 11 - yWidest / 2, callback: (v, i) => fmt(ys[i]) },
                    grid, border: { display: false },
                },
            },
        },
        plugins: [frame],
    });

    addText('txt tag', p.tag, left + 13, top + 37);
    if (p.month) {
        const mw = p.month === 'July' ? 84 : 137;
        const m = document.createElement('div');
        m.className = 'month';
        m.textContent = p.month;
        m.style.cssText = `left:${left + (BOX_W - mw) / 2}px;top:${top}px;width:${mw}px`;
        document.body.appendChild(m);
    }
}

const panels = [
    { tag: '(a)', month: 'January', col: 0, row: 0, xTicks: aXTicks, yTicks: aYTicks,
      sets: precipSets(aObs, [aRaw, aBcind, aBcens, aBciv], aObsBand,
                       [[aRawLo, aRawHi], [aBcindLo, aBcindHi], [aBcensLo, aBcensHi], [aBcivLo, aBcivHi]]) },
    { tag: '(b)', month: 'July', col: 1, row: 0, xTicks: bXTicks, yTicks: bYTicks,
      sets: precipSets(bObs, [bRaw, bBcind, bBcens, bBciv], bObsBand,
                       [[bRawLo, bRawHi], [bBcindLo, bBcindHi], [bBcensLo, bBcensHi], [bBcivLo, bBcivHi]]) },
    { tag: '(e)', month: 'January', col: 2, row: 0, xTicks: eXTicks, yTicks: eYTicks,
      sets: precipSets(eObs, [eRaw, eBcind, eBcens, eBciv], eObsBand,
                       [[eRawLo, eRawHi], [eBcindLo, eBcindHi], [eBcensLo, eBcensHi], [eBcivLo, eBcivHi]]) },
    { tag: '(f)', month: 'July', col: 3, row: 0, xTicks: fXTicks, yTicks: fYTicks,
      sets: precipSets(fObs, [fRaw, fBcind, fBcens, fBciv], fObs,
                       [[fRawLo, fRawHi], [fBcindLo, fBcindHi], [fBcensLo, fBcensHi], [fBcivLo, fBcivHi]]) },
    { tag: '(c)', col: 0, row: 1, xTicks: cXTicks, yTicks: cYTicks,
      sets: tempSets(cObs, [cRaw, cBcind, cBcens, cBciv], cRawSpread, cBcSpread) },
    { tag: '(d)', col: 1, row: 1, xTicks: dXTicks, yTicks: dYTicks,
      sets: tempSets(dObs, [dRaw, dBcind, dBcens, dBciv], dRawSpread, dBcSpread) },
    { tag: '(g)', col: 2, row: 1, xTicks: gXTicks, yTicks: gYTicks,
      sets: tempSets(gObs, [gRaw, gBcind, gBcens, gBciv], gRawSpread, gBcSpread) },
    { tag: '(h)', col: 3, row: 1, xTicks: hXTicks, yTicks: hYTicks,
      sets: tempSets(hObs, [hRaw, hBcind, hBcens, hBciv], hRawSpread, hBcSpread) },
];
panels.forEach(makePanel);

// legend in panel (h)
SERIES.forEach((s, i) => {
    const y = 873 + i * 22.8;
    const k = document.createElement('div');
    k.className = 'key';
    k.style.cssText = `left:1878px;top:${y - 2}px;background:${COLORS[i]}`;
    document.body.appendChild(k);
    addText('txt keytxt', s, 1932, y);
});

// stretch the serif title to the reference width
const title = document.getElementById('title');
title.style.transform = `scaleX(${687 / title.getBoundingClientRect().width})`;
</script>
</body>
</html>
